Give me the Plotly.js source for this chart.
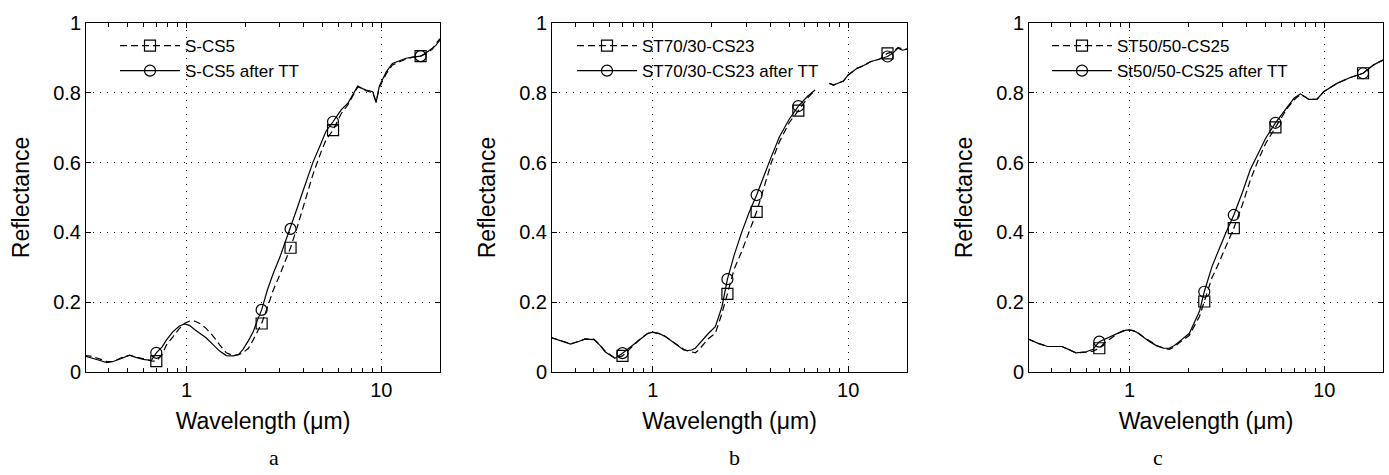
<!DOCTYPE html>
<html>
<head>
<meta charset="utf-8">
<script src="https://cdn.plot.ly/plotly-3.0.1.min.js"></script>
<style>html,body{margin:0;padding:0;background:#fff;}#chart{width:1389px;height:475px;}</style>
</head>
<body>
<div id="chart"></div>
<script>
// ---------- Panel a : S-CS5 ----------
const wlA = [0.30,0.33,0.36,0.39,0.42,0.46,0.51,0.55,0.60,0.66,0.70,0.75,0.79,0.85,0.92,0.98,1.04,1.10,1.18,1.26,1.36,1.48,1.60,1.74,1.85,1.95,2.08,2.20,2.30,2.43,2.60,2.79,3.02,3.20,3.42,3.70,3.97,4.45,4.90,5.20,5.65,6.22,6.73,7.20,7.57,8.00,8.35,9.03,9.40,9.77,10.6,11.4,12.3,13.4,14.5,15.9,17.0,18.3,19.0,20.0];
const aAfter = [0.046,0.040,0.033,0.027,0.030,0.038,0.048,0.042,0.036,0.033,0.055,0.072,0.092,0.115,0.132,0.138,0.133,0.122,0.110,0.098,0.080,0.060,0.047,0.046,0.050,0.065,0.090,0.115,0.145,0.178,0.235,0.283,0.330,0.370,0.410,0.470,0.520,0.600,0.655,0.690,0.717,0.751,0.770,0.800,0.819,0.812,0.808,0.803,0.772,0.820,0.860,0.884,0.890,0.899,0.902,0.905,0.915,0.927,0.935,0.951];
const aBefore = [0.048,0.044,0.037,0.030,0.030,0.040,0.048,0.044,0.038,0.032,0.031,0.050,0.078,0.100,0.125,0.140,0.146,0.146,0.138,0.125,0.105,0.078,0.055,0.047,0.050,0.055,0.068,0.092,0.115,0.139,0.185,0.235,0.280,0.318,0.356,0.415,0.470,0.565,0.630,0.665,0.693,0.740,0.765,0.795,0.817,0.812,0.806,0.800,0.775,0.815,0.855,0.880,0.888,0.897,0.902,0.905,0.912,0.925,0.940,0.955];
const mkA = [0.70,2.43,3.42,5.65,15.9];
const mkAAfter = [0.055,0.178,0.410,0.717,0.905];
const mkABefore = [0.031,0.139,0.356,0.693,0.905];

// ---------- Panel b : ST70/30-CS23 ----------
const wlB = [0.30,0.34,0.38,0.42,0.45,0.50,0.54,0.57,0.61,0.64,0.70,0.74,0.78,0.83,0.88,0.94,1.00,1.08,1.16,1.26,1.36,1.44,1.50,1.58,1.65,1.71,1.85,1.93,2.09,2.26,2.41,2.61,2.85,3.10,3.40,3.90,4.03,4.45,5.00,5.56,6.20,6.77,7.30,8.02,8.40,8.75,9.46,10.0,11.1,12.0,13.0,14.5,15.9,17.0,18.0,19.0,20.0];
const bAfter = [0.099,0.090,0.080,0.088,0.094,0.093,0.075,0.058,0.047,0.039,0.054,0.065,0.074,0.087,0.099,0.110,0.114,0.110,0.102,0.087,0.072,0.063,0.061,0.063,0.068,0.078,0.098,0.111,0.130,0.187,0.266,0.335,0.400,0.455,0.507,0.598,0.615,0.674,0.725,0.762,0.790,0.808,null,0.827,0.822,0.826,0.834,0.851,0.870,0.878,0.889,0.897,0.904,0.915,0.928,0.922,0.925];
const bBefore = [0.099,0.090,0.081,0.088,0.095,0.094,0.076,0.060,0.048,0.040,0.046,0.060,0.072,0.086,0.099,0.110,0.114,0.110,0.102,0.088,0.074,0.065,0.061,0.057,0.055,0.062,0.086,0.096,0.111,0.168,0.224,0.295,0.345,0.400,0.459,0.570,0.598,0.660,0.715,0.749,0.785,0.808,null,0.827,0.822,0.826,0.834,0.851,0.870,0.878,0.889,0.897,0.913,0.918,0.930,0.925,0.925];
const mkB = [0.70,2.41,3.40,5.56,15.9];
const mkBAfter = [0.054,0.266,0.507,0.762,0.904];
const mkBBefore = [0.046,0.224,0.459,0.749,0.913];

// ---------- Panel c : ST50/50-CS25 ----------
const wlC = [0.30,0.34,0.38,0.45,0.49,0.53,0.60,0.65,0.70,0.75,0.805,0.88,0.96,1.02,1.08,1.17,1.27,1.38,1.50,1.60,1.70,1.80,2.03,2.29,2.42,2.65,2.82,3.10,3.43,3.80,4.17,4.60,5.00,5.61,6.44,7.00,7.53,8.00,8.32,9.18,9.92,11.6,13.6,15.8,17.9,20.0];
const cAfter = [0.095,0.082,0.073,0.073,0.064,0.055,0.058,0.065,0.087,0.095,0.101,0.112,0.120,0.120,0.115,0.100,0.087,0.075,0.068,0.068,0.076,0.087,0.111,0.175,0.230,0.302,0.340,0.395,0.450,0.515,0.580,0.630,0.670,0.714,0.760,0.785,0.797,0.788,0.781,0.782,0.803,0.827,0.844,0.856,0.880,0.894];
const cBefore = [0.095,0.082,0.073,0.073,0.064,0.055,0.057,0.060,0.068,0.085,0.097,0.112,0.122,0.120,0.117,0.102,0.088,0.076,0.068,0.065,0.072,0.084,0.105,0.160,0.202,0.270,0.302,0.355,0.412,0.480,0.550,0.610,0.655,0.701,0.755,0.780,0.795,0.788,0.781,0.782,0.803,0.827,0.844,0.856,0.880,0.894];
const mkC = [0.70,2.42,3.43,5.61,15.8];
const mkCAfter = [0.087,0.230,0.450,0.714,0.856];
const mkCBefore = [0.068,0.202,0.412,0.701,0.856];

const namesBefore = ['S-CS5','ST70/30-CS23','ST50/50-CS25'];
const namesAfter = ['S-CS5 after TT','ST70/30-CS23 after TT','St50/50-CS25 after TT'];
const panelLabels = ['a','b','c'];
const xTitle = 'Wavelength (\u03bcm)';
const yTitle = 'Reflectance';

const panels = [
  {wl: wlA, after: aAfter, before: aBefore, mk: mkA, mkAfter: mkAAfter, mkBefore: mkABefore},
  {wl: wlB, after: bAfter, before: bBefore, mk: mkB, mkAfter: mkBAfter, mkBefore: mkBBefore},
  {wl: wlC, after: cAfter, before: cBefore, mk: mkC, mkAfter: mkCAfter, mkBefore: mkCBefore}
];

const FONT = 'Liberation Sans, Arial, sans-serif';
const DASH = '7px,4px';
const LW = 1.2;
const MS = 11;

const xDomains = [[86/1389, 440/1389],[552/1389, 907/1389],[1029/1389, 1383/1389]];
const yDomain = [103/475, 452/475];
const legendLeft = [115, 572, 1047];
const labelX = [274, 734, 1158];

const traces = [];
const layout = {
  width: 1389, height: 475,
  margin: {l:0, r:0, t:0, b:0},
  paper_bgcolor: '#fff', plot_bgcolor: '#fff',
  font: {family: FONT, color: '#000'},
  showlegend: true,
  annotations: []
};

panels.forEach((p, i) => {
  const n = i === 0 ? '' : String(i + 1);
  const xa = 'x' + n, ya = 'y' + n;
  const lg = i === 0 ? 'legend' : 'legend' + (i + 1);
  traces.push({x: p.wl, y: p.before, xaxis: xa, yaxis: ya, mode: 'lines', showlegend: false,
    line: {color: '#000', width: LW, dash: DASH}, hoverinfo: 'skip'});
  traces.push({x: p.wl, y: p.after, xaxis: xa, yaxis: ya, mode: 'lines', showlegend: false,
    line: {color: '#000', width: LW}, hoverinfo: 'skip'});
  traces.push({x: p.mk, y: p.mkBefore, xaxis: xa, yaxis: ya, mode: 'markers', showlegend: false,
    marker: {symbol: 'square-open', size: MS, color: '#000', line: {width: 1.2, color: '#000'}}});
  traces.push({x: p.mk, y: p.mkAfter, xaxis: xa, yaxis: ya, mode: 'markers', showlegend: false,
    marker: {symbol: 'circle-open', size: MS, color: '#000', line: {width: 1.2, color: '#000'}}});
  // legend entries
  traces.push({x: [null], y: [null], xaxis: xa, yaxis: ya, mode: 'lines+markers', name: namesBefore[i], legend: lg,
    line: {color: '#000', width: LW, dash: DASH},
    marker: {symbol: 'square-open', size: MS, color: '#000', line: {width: 1.2, color: '#000'}}});
  traces.push({x: [null], y: [null], xaxis: xa, yaxis: ya, mode: 'lines+markers', name: namesAfter[i], legend: lg,
    line: {color: '#000', width: LW},
    marker: {symbol: 'circle-open', size: MS, color: '#000', line: {width: 1.2, color: '#000'}}});

  layout['xaxis' + n] = {
    type: 'log', range: [Math.log10(0.305), Math.log10(20)], domain: xDomains[i], anchor: ya,
    dtick: 1, ticks: 'inside', ticklen: 5, tickcolor: '#000', tickwidth: 1,
    showline: true, linecolor: '#000', linewidth: 1, mirror: 'ticks',
    showgrid: true, gridcolor: '#000', gridwidth: 1, griddash: '1px,6px',
    minor: {ticks: 'inside', ticklen: 4, dtick: 'D1', tickcolor: '#000', tickwidth: 1, showgrid: false},
    tickfont: {family: FONT, size: 20, color: '#000'},
    title: {text: xTitle, font: {family: FONT, size: 23, color: '#000'}, standoff: 12},
    zeroline: false, fixedrange: true
  };
  layout['yaxis' + n] = {
    range: [0, 1], domain: yDomain, anchor: xa,
    dtick: 0.2, ticks: 'inside', ticklen: 5, tickcolor: '#000', tickwidth: 1,
    showline: true, linecolor: '#000', linewidth: 1, mirror: 'ticks',
    showgrid: true, gridcolor: '#000', gridwidth: 1, griddash: '1px,6px',
    tickfont: {family: FONT, size: 20, color: '#000'},
    title: {text: yTitle, font: {family: FONT, size: 23, color: '#000'}, standoff: 17},
    zeroline: false, fixedrange: true
  };
  layout[lg] = {
    x: legendLeft[i] / 1389, y: (475 - 28) / 475, xanchor: 'left', yanchor: 'top',
    xref: 'paper', yref: 'paper',
    bgcolor: 'rgba(0,0,0,0)', borderwidth: 0,
    font: {family: FONT, size: 17, color: '#000'},
    itemwidth: 60, tracegroupgap: 4
  };
  layout.annotations.push({
    text: panelLabels[i], xref: 'paper', yref: 'paper',
    x: labelX[i] / 1389, y: 3 / 475, xanchor: 'center', yanchor: 'bottom',
    showarrow: false, font: {family: 'Liberation Serif, Times New Roman, serif', size: 22, color: '#000'}
  });
});

Plotly.newPlot('chart', traces, layout, {staticPlot: true, displayModeBar: false});
</script>
</body>
</html>
